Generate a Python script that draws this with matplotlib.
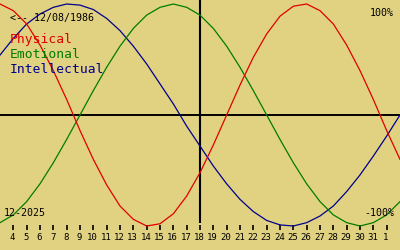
import matplotlib
matplotlib.use("Agg")
import matplotlib.pyplot as plt

# days of the month shown (3 .. 33, day 32 = 1st of next month)
days = list(range(3, 34))
physical = [1.00, 0.94, 0.82, 0.63, 0.40, 0.14, -0.14, -0.40, -0.63, -0.82,
            -0.94, -1.00, -0.98, -0.89, -0.73, -0.52, -0.27, 0.00, 0.27, 0.52,
            0.73, 0.89, 0.98, 1.00, 0.94, 0.82, 0.63, 0.40, 0.14, -0.14, -0.40]
emotional = [-0.97, -0.90, -0.78, -0.62, -0.43, -0.22, 0.00, 0.22, 0.43, 0.62,
             0.78, 0.90, 0.97, 1.00, 0.97, 0.90, 0.78, 0.62, 0.43, 0.22,
             0.00, -0.22, -0.43, -0.62, -0.78, -0.90, -0.97, -1.00, -0.97, -0.90, -0.78]
intellectual = [0.54, 0.69, 0.82, 0.91, 0.97, 1.00, 0.99, 0.95, 0.87, 0.76,
                0.62, 0.46, 0.28, 0.10, -0.10, -0.28, -0.46, -0.62, -0.76, -0.87,
                -0.95, -0.99, -1.00, -0.97, -0.91, -0.82, -0.69, -0.54, -0.37, -0.19, 0.00]

tick_days = list(range(4, 33))
tick_labels = [str(d) for d in range(4, 32)] + ["1"]
today = 18

birth = "<-- 12/08/1986"
month = "12-2025"

bg = "#e1d282"
red = "#e00000"
green = "#007c00"
blue = "#00008c"
mono = "DejaVu Sans Mono"

fig = plt.figure(figsize=(4, 2.5), dpi=100)
fig.patch.set_facecolor(bg)
ax = fig.add_axes([0, 0, 1, 1])
ax.set_facecolor(bg)
ax.set_xlim(3, 33)
ax.set_ylim(-135 / 111, 115 / 111)
ax.axis("off")

def py(y):
    # pixel row -> data y
    return (115 - y) / 111

ax.axhline(0, color="black", lw=1.4)
ax.vlines(today, py(223), py(0), color="black", lw=1.5)
ax.vlines(tick_days, py(225), py(230), color="black", lw=1.2)
for d, lab in zip(tick_days, tick_labels):
    ax.text(d - 0.05, py(240), lab, ha="center", va="baseline",
            fontsize=6.5, family=mono, color="black")

ax.plot(days, intellectual, color=blue, lw=0.9)
ax.plot(days, emotional, color=green, lw=0.9)
ax.plot(days, physical, color=red, lw=0.9)

tr = ax.transAxes
def fy(y):
    return 1 - y / 250

ax.text(10 / 400, fy(21), birth, fontsize=7.2, family=mono, va="baseline", transform=tr)
ax.text(10 / 400, fy(43), "Physical", fontsize=9.4, family=mono, color=red, va="baseline", transform=tr)
ax.text(10 / 400, fy(58), "Emotional", fontsize=9.4, family=mono, color=green, va="baseline", transform=tr)
ax.text(10 / 400, fy(73), "Intellectual", fontsize=9.4, family=mono, color=blue, va="baseline", transform=tr)
ax.text(4 / 400, fy(216), month, fontsize=7.2, family=mono, va="baseline", transform=tr)
ax.text(394 / 400, fy(16), "100%", fontsize=7.2, family=mono, ha="right", va="baseline", transform=tr)
ax.text(394 / 400, fy(216), "-100%", fontsize=7.2, family=mono, ha="right", va="baseline", transform=tr)

fig.savefig("out.png", dpi=100, facecolor=bg)
